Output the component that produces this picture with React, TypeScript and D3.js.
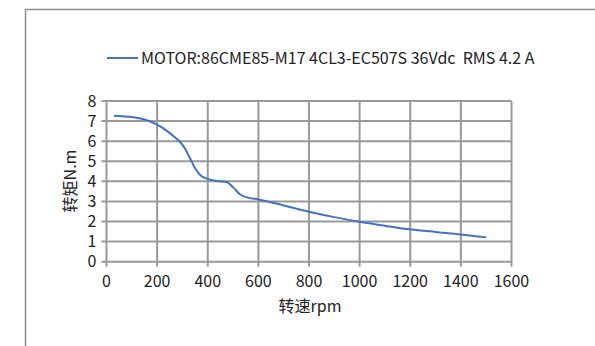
import React from "react";
import * as d3 from "d3";

const rpm = [30, 100, 150, 200, 240, 265, 290, 310, 330, 350, 370, 400, 435, 475, 500, 527, 555, 600, 700, 800, 900, 1000, 1100, 1200, 1300, 1400, 1500];
const torque = [7.27, 7.2, 7.08, 6.82, 6.5, 6.25, 5.97, 5.64, 5.15, 4.65, 4.32, 4.12, 4.02, 3.97, 3.7, 3.36, 3.2, 3.1, 2.8, 2.49, 2.22, 1.99, 1.79, 1.61, 1.48, 1.36, 1.21];
const xTicks = [0, 200, 400, 600, 800, 1000, 1200, 1400, 1600];
const yTicks = [0, 1, 2, 3, 4, 5, 6, 7, 8];
const legendLabel = "MOTOR:86CME85-M17 4CL3-EC507S 36Vdc  RMS 4.2 A";
const xTitle = "转速rpm";
const yTitle = "转矩N.m";

export default function App() {
  const W = 595, H = 346;
  const x = d3.scaleLinear().domain([0, 1600]).range([106.5, 511.5]);
  const y = d3.scaleLinear().domain([0, 8]).range([261.7, 101]);
  const pts: [number, number][] = rpm.map((r, i) => [r, torque[i]]);
  const line = d3.line<[number, number]>().x(d => x(d[0])).y(d => y(d[1])).curve(d3.curveMonotoneX);
  const font = "'Noto Sans CJK SC', 'Noto Sans', sans-serif";
  const grid = "#999";
  const fs = 16;
  return (
    <svg width={W} height={H} style={{ position: "absolute", left: 0, top: 0 }} fontFamily={font}>
      <rect x={0} y={0} width={W} height={H} fill="#fff" />
      <path d={`M25.5,${H} V9.5 H${W}`} fill="none" stroke="#8c8c8c" strokeWidth={1.5} />
      {yTicks.map(t => (
        <line key={"h" + t} x1={x(0) - 5} x2={x(1600)} y1={y(t)} y2={y(t)} stroke={grid} strokeWidth={2} />
      ))}
      {xTicks.map(t => (
        <line key={"v" + t} x1={x(t)} x2={x(t)} y1={y(8)} y2={y(0) + 5} stroke={grid} strokeWidth={2} />
      ))}
      {yTicks.map(t => (
        <text key={"yl" + t} x={x(0) - 10} y={y(t)} dy="0.35em" textAnchor="end" fontSize={fs} fill="#222">{t}</text>
      ))}
      {xTicks.map(t => (
        <text key={"xl" + t} x={x(t)} y={y(0) + 20} dy="0.35em" textAnchor="middle" fontSize={fs} fill="#222">{t}</text>
      ))}
      <path d={line(pts) || ""} fill="none" stroke="#4472C4" strokeWidth={2} />
      <text x={310} y={306} dy="0.35em" textAnchor="middle" fontSize={fs} fill="#222">{xTitle}</text>
      <text transform={`translate(70,181) rotate(-90)`} dy="0.35em" textAnchor="middle" fontSize={fs} fill="#222">{yTitle}</text>
      <line x1={107} x2={138} y1={58} y2={58} stroke="#4472C4" strokeWidth={2} />
      <text x={141} y={58} dy="0.35em" fontSize={fs} fill="#222" style={{ whiteSpace: "pre" }}>{legendLabel}</text>
    </svg>
  );
}
